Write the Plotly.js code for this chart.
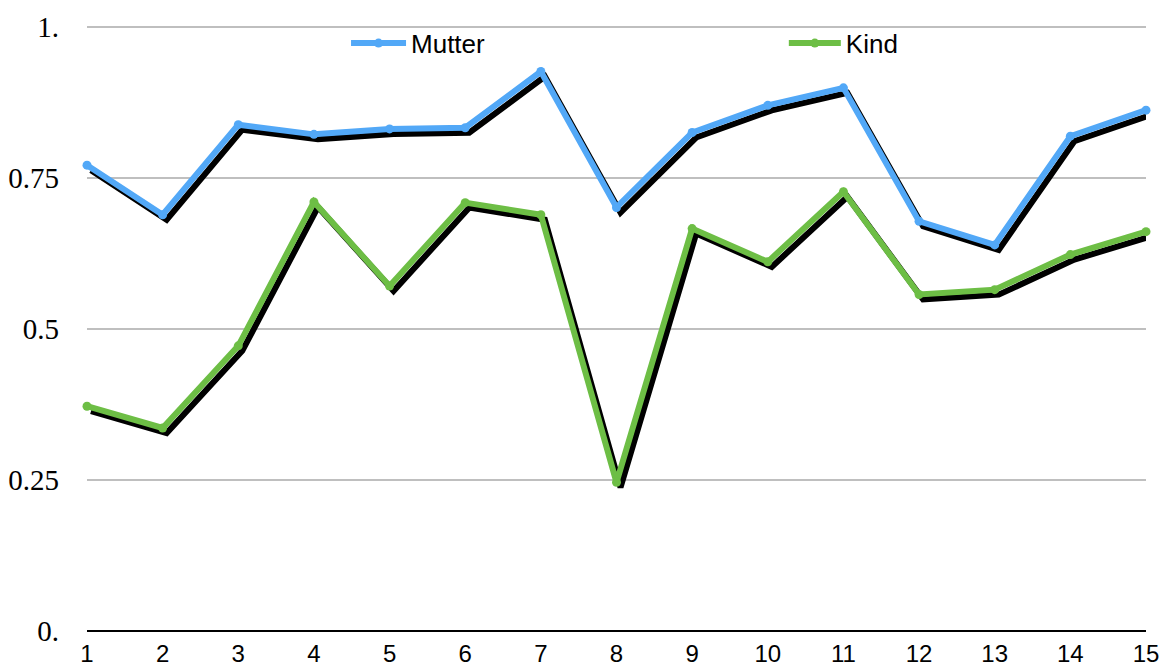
<!DOCTYPE html>
<html>
<head>
<meta charset="utf-8">
<script src="https://cdn.plot.ly/plotly-3.0.1.min.js"></script>
<style>
  html, body { margin: 0; padding: 0; background: #fff; }
  #chart { width: 1163px; height: 666px; }
</style>
</head>
<body>
<div id="chart"></div>
<script>
var points = [1, 2, 3, 4, 5, 6, 7, 8, 9, 10, 11, 12, 13, 14, 15];
var mutterData = [0.771, 0.689, 0.838, 0.822, 0.831, 0.833, 0.926, 0.701, 0.825, 0.870, 0.899, 0.678, 0.639, 0.819, 0.862];
var kindData = [0.372, 0.336, 0.472, 0.710, 0.571, 0.709, 0.689, 0.246, 0.666, 0.611, 0.727, 0.557, 0.565, 0.623, 0.661];
var yTickVals = [0, 0.25, 0.5, 0.75, 1];
var yTickText = ["0.", "0.25", "0.5", "0.75", "1."];

// drop shadow: same data, nudged a few pixels right and down
var shiftX = 4 / 75.6;
var shiftY = 5 / 604;
function shadowX(xs) { return xs.map(function (v) { return v + shiftX; }); }
function shadowY(ys) { return ys.map(function (v) { return v - shiftY; }); }

var mutterShadow = {
  x: shadowX(points),
  y: shadowY(mutterData),
  type: "scatter",
  mode: "lines",
  line: { color: "#000000", width: 6 },
  hoverinfo: "skip",
  showlegend: false,
  cliponaxis: false
};
var kindShadow = {
  x: shadowX(points),
  y: shadowY(kindData),
  type: "scatter",
  mode: "lines",
  line: { color: "#000000", width: 6 },
  hoverinfo: "skip",
  showlegend: false,
  cliponaxis: false
};
var mutterTrace = {
  x: points,
  y: mutterData,
  type: "scatter",
  mode: "lines+markers",
  name: "Mutter",
  legend: "legend",
  line: { color: "#52a8f7", width: 6 },
  marker: { color: "#52a8f7", size: 9 },
  cliponaxis: false
};
var kindTrace = {
  x: points,
  y: kindData,
  type: "scatter",
  mode: "lines+markers",
  name: "Kind",
  legend: "legend2",
  line: { color: "#6dbe45", width: 6 },
  marker: { color: "#6dbe45", size: 9 },
  cliponaxis: false
};

var legendFont = { family: "Liberation Sans, Arial, sans-serif", size: 26, color: "#000000" };

var layout = {
  width: 1163,
  height: 666,
  margin: { l: 87, r: 17, t: 25, b: 35, autoexpand: false },
  paper_bgcolor: "#ffffff",
  plot_bgcolor: "#ffffff",
  showlegend: true,
  legend: {
    orientation: "h",
    x: 0.2446,
    xanchor: "left",
    y: 0.97,
    yanchor: "middle",
    itemwidth: 55,
    font: legendFont,
    bgcolor: "rgba(0,0,0,0)"
  },
  legend2: {
    orientation: "h",
    x: 0.658,
    xanchor: "left",
    y: 0.97,
    yanchor: "middle",
    itemwidth: 52,
    font: legendFont,
    bgcolor: "rgba(0,0,0,0)"
  },
  xaxis: {
    range: [1, 15],
    tickvals: points,
    showgrid: false,
    zeroline: false,
    showline: false,
    ticks: "",
    ticklabelstandoff: 6,
    tickfont: { family: "Liberation Sans, Arial, sans-serif", size: 24, color: "#000000" }
  },
  yaxis: {
    range: [0, 1.003],
    tickvals: yTickVals,
    ticktext: yTickText,
    showgrid: true,
    gridcolor: "#bfbfbf",
    gridwidth: 2,
    zeroline: true,
    zerolinecolor: "#000000",
    zerolinewidth: 2,
    showline: false,
    ticks: "",
    ticklabelstandoff: 27,
    tickfont: { family: "Liberation Serif, Times New Roman, serif", size: 29, color: "#000000" }
  }
};

Plotly.newPlot("chart", [mutterShadow, kindShadow, mutterTrace, kindTrace], layout, { displayModeBar: false, staticPlot: true });
</script>
</body>
</html>
